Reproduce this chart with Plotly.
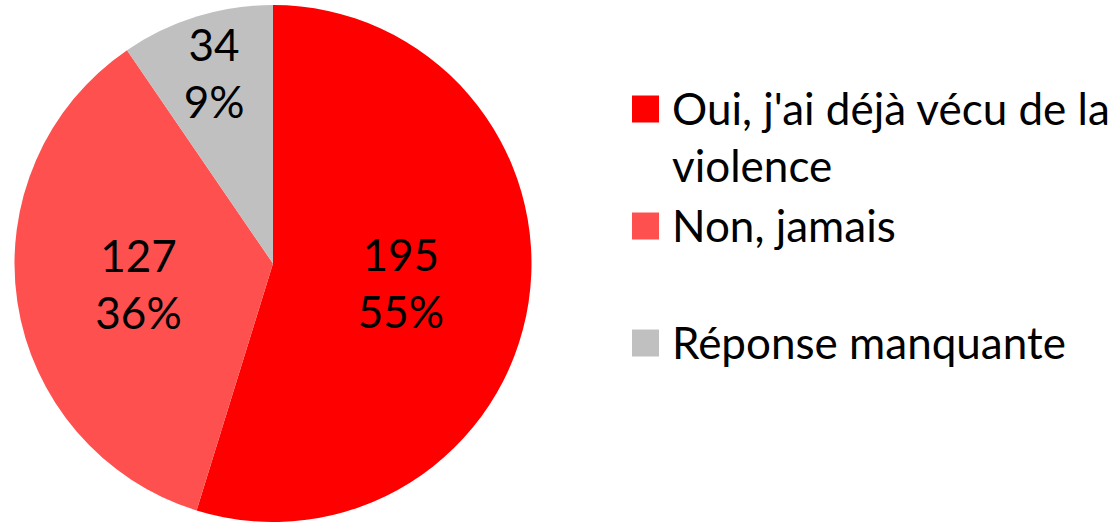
import plotly.graph_objects as go

labels = ["Oui, j'ai déjà vécu de la<br>violence", "Non, jamais", "Réponse manquante"]
values = [195, 127, 34]
pct_labels = ["55%", "36%", "9%"]
colors = ["#FF0000", "#FF5050", "#C0C0C0"]

W, H = 1120, 522
TOP = 5
FONT = "Lato, 'Open Sans', sans-serif"

fig = go.Figure(go.Pie(
    labels=labels,
    values=values,
    text=pct_labels,
    texttemplate="%{value}<br>%{text}",
    textposition="inside",
    insidetextorientation="horizontal",
    textfont=dict(color="black", size=44, family=FONT),
    marker=dict(colors=colors, line=dict(width=0)),
    sort=False,
    direction="clockwise",
    rotation=0,
    domain=dict(x=[14 / W, 532 / W], y=[0, 1]),
    hoverinfo="label+value+percent",
    showlegend=False,
))


# legend drawn by hand so the swatches can be as large as in the original
def px_to_paper(x, y):
    return x / W, (H - y) / (H - TOP)


row_step = 117
for i, (lab, col) in enumerate(zip(labels, colors)):
    cy = 109 + i * row_step
    x0, y0 = px_to_paper(632, cy - 13.5)
    x1, y1 = px_to_paper(659, cy + 13.5)
    fig.add_shape(type="rect", xref="paper", yref="paper",
                  x0=x0, x1=x1, y0=y1, y1=y0,
                  fillcolor=col, line=dict(width=0))
    tx, ty = px_to_paper(670, cy - 29)
    fig.add_annotation(xref="paper", yref="paper", x=tx, y=ty,
                       xanchor="left", yanchor="top", align="left",
                       text=lab, showarrow=False,
                       font=dict(size=44, family=FONT, color="black"))

fig.update_layout(
    width=W, height=H,
    margin=dict(l=0, r=0, t=TOP, b=0),
    paper_bgcolor="white",
    plot_bgcolor="white",
    font=dict(family=FONT, color="black"),
    uniformtext=dict(minsize=44, mode="show"),
)

fig.write_html("out.html", config={"displayModeBar": False},
               post_script="document.body.style.margin='0';")
